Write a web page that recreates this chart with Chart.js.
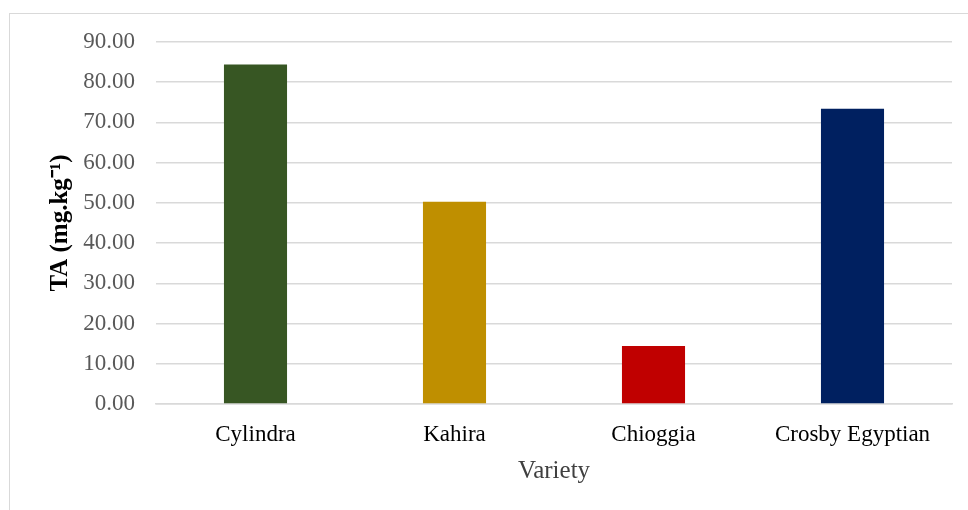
<!DOCTYPE html>
<html>
<head>
<meta charset="utf-8">
<script src="https://cdn.jsdelivr.net/npm/chart.js@4"></script>
<style>
  body { margin: 0; background: #fff; }
  #wrap { position: relative; width: 968px; height: 510px; overflow: hidden; }
  #frame { position: absolute; left: 9px; top: 13px; width: 1000px; height: 600px;
           border-left: 1px solid #d9d9d9; border-top: 1px solid #d9d9d9; }
  canvas { position: absolute; left: 0; top: 0; }
</style>
</head>
<body>
<div id="wrap">
  <div id="frame"></div>
  <canvas id="taChart" width="968" height="510"></canvas>
</div>
<script>
let varieties = ["Cylindra", "Kahira", "Chioggia", "Crosby Egyptian"];
let taValues = [84.4, 50.3, 14.4, 73.4];
let barColors = ["#375623", "#bf8f00", "#c00000", "#002060"];

let ctx = document.getElementById("taChart").getContext("2d");
new Chart(ctx, {
  type: "bar",
  data: {
    labels: varieties,
    datasets: [
      {
        label: "TA",
        data: taValues,
        backgroundColor: barColors,
        borderWidth: 0,
        barPercentage: 0.317,
        categoryPercentage: 1,
      },
    ],
  },
  options: {
    responsive: false,
    animation: false,
    layout: { padding: { left: 46, right: 16, top: 42, bottom: 20 } },
    plugins: {
      legend: { display: false },
      tooltip: { enabled: false },
    },
    scales: {
      x: {
        grid: { display: false },
        border: { display: true, color: "#d9d9d9", width: 1.5 },
        ticks: {
          color: "#000",
          padding: 9,
          font: { family: "Liberation Serif", size: 23 },
        },
        title: {
          display: true,
          text: "Variety",
          color: "#404040",
          font: { family: "Liberation Serif", size: 25 },
        },
        afterFit: (scale) => {
          scale.height = 86;
        },
      },
      y: {
        min: 0,
        max: 90,
        grid: { color: "#d9d9d9", lineWidth: 1.5, drawTicks: false },
        border: { display: false },
        ticks: {
          stepSize: 10,
          color: "#595959",
          padding: 21,
          font: { family: "Liberation Serif", size: 23 },
          callback: (v) => v.toFixed(2),
        },
        title: {
          display: true,
          text: "TA (mg.kg\u207B\u00B9)",
          color: "#000",
          padding: 0,
          font: { family: "Liberation Serif", size: 25, weight: "bold" },
        },
        afterFit: (scale) => {
          scale.width = 110;
        },
      },
    },
  },
});
</script>
</body>
</html>
